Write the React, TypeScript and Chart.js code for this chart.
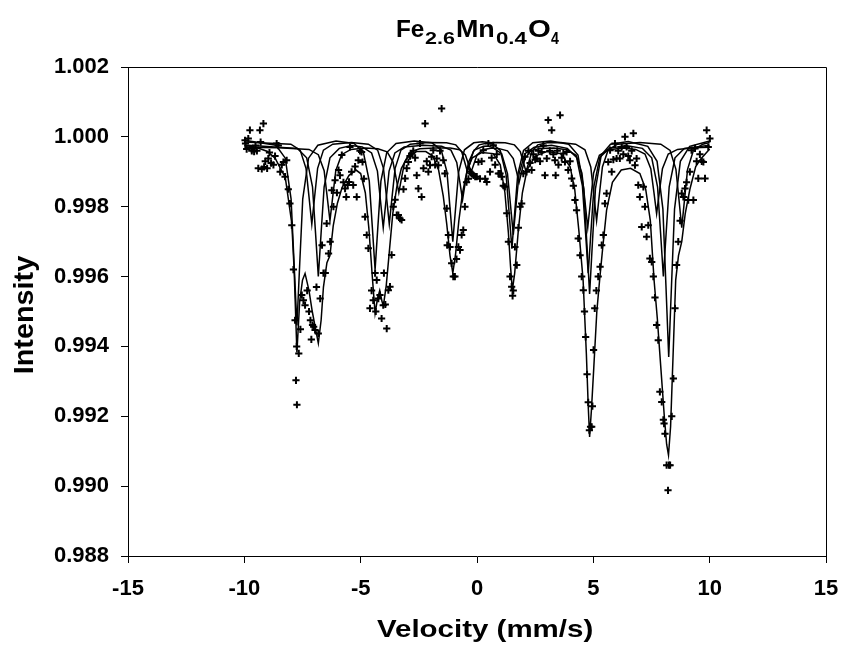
import React, { useEffect, useRef } from 'react';
import { Chart, registerables } from 'chart.js';

Chart.register(...registerables);

const FONT = "'Liberation Sans', Arial, Helvetica, sans-serif";

// Axis ranges
const X_MIN = -15;
const X_MAX = 15;
const X_STEP = 5;
const Y_MIN = 0.988;
const Y_MAX = 1.002;
const Y_STEP = 0.002;

// Text
const TITLE_PARTS: [string, boolean][] = [
  ['Fe', false], ['2.6', true], ['Mn', false], ['0.4', true], ['O', false], ['4', true],
];
const X_TITLE = 'Velocity (mm/s)';
const Y_TITLE = 'Intensity';

// Measured data points (velocity, intensity)
const velocity = [
  -9.97, -9.95, -9.90, -9.83, -9.76, -9.68, -9.63, -9.58, -9.52, -9.46,
  -9.40, -9.33, -9.30, -9.25, -9.18, -9.15, -9.10, -9.02, -8.97, -8.92,
  -8.85, -8.75, -8.68, -8.61, -8.54, -8.46, -8.39, -8.32, -8.25, -8.18,
  -8.11, -8.04, -7.96, -7.89, -7.82, -7.78, -7.75, -7.74, -7.66, -7.59,
  -7.53, -7.46, -7.39, -7.30, -7.22, -7.16, -7.12, -7.07, -7.02, -6.96,
  -6.90, -6.82, -6.74, -6.66, -6.60, -6.52, -6.46, -6.38, -6.31, -6.24,
  -6.17, -6.10, -6.02, -5.95, -5.89, -5.81, -5.74, -5.67, -5.62, -5.56,
  -5.50, -5.46, -5.39, -5.32, -5.24, -5.17, -5.10, -5.03, -4.96, -4.92,
  -4.86, -4.81, -4.74, -4.67, -4.60, -4.53, -4.46, -4.38, -4.35, -4.31,
  -4.24, -4.17, -4.10, -4.03, -4.00, -3.94, -3.88, -3.81, -3.74, -3.67,
  -3.60, -3.52, -3.45, -3.38, -3.31, -3.24, -3.16, -3.09, -3.02, -2.95,
  -2.88, -2.81, -2.74, -2.66, -2.59, -2.52, -2.45, -2.38, -2.30, -2.23,
  -2.16, -2.09, -2.02, -1.95, -1.88, -1.80, -1.73, -1.66, -1.59, -1.52,
  -1.45, -1.38, -1.30, -1.28, -1.23, -1.16, -1.09, -1.02, -0.95, -0.88,
  -0.80, -0.73, -0.66, -0.59, -0.52, -0.45, -0.37, -0.30, -0.23, -0.15,
  -0.08, -0.01, 0.06, 0.13, 0.20, 0.27, 0.35, 0.42, 0.49, 0.56,
  0.63, 0.70, 0.78, 0.85, 0.92, 0.99, 1.06, 1.13, 1.20, 1.28,
  1.35, 1.42, 1.49, 1.53, 1.56, 1.63, 1.71, 1.78, 1.85, 1.92,
  1.99, 2.06, 2.13, 2.21, 2.28, 2.35, 2.42, 2.50, 2.57, 2.64,
  2.71, 2.78, 2.85, 2.92, 3.00, 3.06, 3.13, 3.21, 3.28, 3.35,
  3.38, 3.45, 3.50, 3.57, 3.64, 3.71, 3.78, 3.85, 3.92, 4.00,
  4.07, 4.14, 4.21, 4.28, 4.35, 4.43, 4.50, 4.57, 4.62, 4.67,
  4.73, 4.78, 4.83, 4.88, 4.93, 4.96, 5.01, 5.06, 5.13, 5.21,
  5.29, 5.36, 5.43, 5.50, 5.57, 5.64, 5.72, 5.79, 5.86, 5.93,
  6.00, 6.07, 6.14, 6.22, 6.29, 6.36, 6.43, 6.50, 6.57, 6.65,
  6.72, 6.79, 6.86, 6.93, 7.00, 7.08, 7.15, 7.22, 7.29, 7.36,
  7.43, 7.51, 7.58, 7.65, 7.72, 7.79, 7.86, 7.94, 8.01, 8.04,
  8.08, 8.15, 8.21, 8.25, 8.30, 8.37, 8.44, 8.51, 8.58, 8.65,
  8.73, 8.80, 8.87, 8.94, 9.01, 9.08, 9.15, 9.22, 9.30, 9.37,
  9.44, 9.51, 9.58, 9.66, 9.73, 9.80, 9.87, 9.94, 10.01,
];

const intensity = [
  0.99990, 0.99981, 0.99965, 0.99995, 1.00019, 0.99960, 0.99966, 0.99958, 0.99975, 0.99960,
  0.99910, 1.00019, 0.99985, 0.99908, 1.00038, 0.99914, 0.99930, 0.99910, 0.99938, 0.99955,
  0.99925, 0.99920, 0.99945, 0.99981, 0.99975, 0.99900, 0.99920, 0.99928, 0.99886, 0.99933,
  0.99850, 0.99809, 0.99747, 0.99620, 0.99475, 0.99303, 0.99400, 0.99233, 0.99380, 0.99449,
  0.99547, 0.99532, 0.99518, 0.99560, 0.99500, 0.99475, 0.99420, 0.99461, 0.99456, 0.99447,
  0.99570, 0.99437, 0.99537, 0.99690, 0.99610, 0.99610, 0.99752, 0.99666, 0.99700, 0.99847,
  0.99800, 0.99876, 0.99840, 0.99905, 0.99890, 0.99948, 0.99870, 0.99852, 0.99828, 0.99862,
  0.99871, 0.99971, 0.99900, 0.99862, 0.99915, 0.99828, 0.99933, 0.99960, 0.99957, 0.99928,
  0.99880, 0.99771, 0.99719, 0.99681, 0.99509, 0.99560, 0.99532, 0.99610, 0.99500, 0.99590,
  0.99537, 0.99547, 0.99480, 0.99518, 0.99610, 0.99520, 0.99451, 0.99561, 0.99571, 0.99662,
  0.99800, 0.99820, 0.99776, 0.99776, 0.99766, 0.99762, 0.99850, 0.99881, 0.99910, 0.99928,
  0.99945, 0.99952, 0.99960, 0.99940, 0.99890, 0.99852, 0.99981, 0.99828, 0.99910, 1.00038,
  0.99930, 0.99900, 0.99919, 0.99943, 0.99962, 0.99920, 0.99938, 0.99919, 0.99960, 1.00081,
  0.99933, 0.99895, 0.99795, 0.99690, 0.99719, 0.99685, 0.99638, 0.99600, 0.99600, 0.99650,
  0.99685, 0.99676, 0.99719, 0.99733, 0.99800, 0.99870, 0.99880, 0.99900, 0.99895, 0.99890,
  0.99886, 0.99886, 0.99928, 0.99880, 0.99930, 0.99962, 0.99880, 0.99871, 0.99981, 0.99900,
  0.99940, 0.99976, 0.99920, 0.99950, 0.99895, 0.99895, 0.99886, 0.99860, 0.99857, 0.99781,
  0.99700, 0.99600, 0.99571, 0.99545, 0.99560, 0.99685, 0.99633, 0.99740, 0.99800, 0.99809,
  0.99895, 0.99943, 0.99900, 0.99960, 0.99925, 0.99905, 0.99950, 0.99935, 0.99938, 0.99960,
  0.99930, 0.99957, 0.99975, 0.99890, 0.99938, 1.00048, 0.99960, 1.00019, 0.99950, 0.99933,
  0.99890, 0.99960, 0.99920, 1.00062, 0.99940, 0.99952, 0.99928, 0.99957, 0.99905, 0.99930,
  0.99881, 0.99860, 0.99819, 0.99790, 0.99709, 0.99661, 0.99600, 0.99561, 0.99500, 0.99427,
  0.99320, 0.99240, 0.99160, 0.99170, 0.99170, 0.99229, 0.99390, 0.99509, 0.99560, 0.99600,
  0.99628, 0.99690, 0.99719, 0.99809, 0.99838, 0.99928, 0.99962, 0.99900, 0.99935, 0.99981,
  0.99938, 0.99960, 0.99938, 0.99971, 0.99950, 1.00000, 0.99971, 0.99945, 0.99933, 0.99960,
  1.00010, 0.99919, 0.99938, 0.99862, 0.99828, 0.99742, 0.99857, 0.99800, 0.99714, 0.99747,
  0.99652, 0.99642, 0.99600, 0.99540, 0.99461, 0.99418, 0.99270, 0.99241, 0.99190, 0.99179,
  0.99150, 0.99060, 0.98988, 0.99060, 0.99060, 0.99200, 0.99308, 0.99509, 0.99633, 0.99700,
  0.99760, 0.99838, 0.99828, 0.99852, 0.99870, 0.99819, 0.99900, 0.99962, 0.99819, 0.99967,
  0.99930, 0.99881, 0.99950, 0.99930, 0.99928, 0.99881, 1.00019, 0.99971, 0.99995,
];

// Total fit curve (velocity, intensity)
const fitTotal: [number, number][] = [
  [-10.00, 0.99975], [-9.50, 0.99970], [-9.00, 0.99958], [-8.67, 0.99938], [-8.45, 0.99910],
  [-8.24, 0.99884], [-8.10, 0.99818], [-7.96, 0.99752], [-7.86, 0.99620], [-7.74, 0.99383],
  [-7.62, 0.99530], [-7.50, 0.99590], [-7.39, 0.99609], [-7.22, 0.99560], [-7.08, 0.99500],
  [-6.94, 0.99450], [-6.82, 0.99409], [-6.70, 0.99475], [-6.60, 0.99570], [-6.45, 0.99640],
  [-6.32, 0.99660], [-6.18, 0.99745], [-6.00, 0.99810], [-5.80, 0.99855], [-5.50, 0.99890],
  [-5.20, 0.99905], [-5.00, 0.99895], [-4.80, 0.99840], [-4.65, 0.99740], [-4.50, 0.99600],
  [-4.38, 0.99495], [-4.28, 0.99535], [-4.18, 0.99560], [-4.08, 0.99528], [-4.02, 0.99518],
  [-3.90, 0.99575], [-3.77, 0.99670], [-3.62, 0.99780], [-3.45, 0.99855], [-3.25, 0.99910],
  [-3.00, 0.99940], [-2.60, 0.99958], [-2.20, 0.99958], [-1.90, 0.99945], [-1.65, 0.99905],
  [-1.45, 0.99830], [-1.30, 0.99750], [-1.16, 0.99660], [-1.04, 0.99610], [-0.92, 0.99665],
  [-0.78, 0.99760], [-0.62, 0.99840], [-0.42, 0.99905], [-0.20, 0.99940], [0.20, 0.99955],
  [0.70, 0.99952], [1.00, 0.99920], [1.20, 0.99840], [1.35, 0.99725], [1.44, 0.99630],
  [1.52, 0.99561], [1.62, 0.99610], [1.78, 0.99735], [1.95, 0.99840], [2.15, 0.99905],
  [2.50, 0.99945], [3.00, 0.99958], [3.60, 0.99952], [4.00, 0.99915], [4.20, 0.99850],
  [4.38, 0.99730], [4.56, 0.99590], [4.70, 0.99380], [4.78, 0.99230], [4.84, 0.99141],
  [4.92, 0.99220], [5.02, 0.99340], [5.15, 0.99500], [5.27, 0.99590], [5.40, 0.99680],
  [5.57, 0.99790], [5.82, 0.99870], [6.20, 0.99905], [6.60, 0.99910], [7.00, 0.99895],
  [7.25, 0.99850], [7.45, 0.99760], [7.61, 0.99590], [7.75, 0.99480], [7.90, 0.99340],
  [8.05, 0.99200], [8.15, 0.99120], [8.23, 0.99089], [8.32, 0.99170], [8.43, 0.99380],
  [8.54, 0.99590], [8.66, 0.99660], [8.80, 0.99700], [8.95, 0.99780], [9.15, 0.99850],
  [9.40, 0.99915], [9.60, 0.99935], [10.00, 0.99965],
];

// Sub-spectrum (sextet) curves
const site1: [number, number][] = [
  [-10, 0.99990], [-8.64, 0.99976], [-8.24, 0.99939], [-7.99, 0.99822], [-7.86, 0.99636],
  [-7.74, 0.9946], [-7.62, 0.99636], [-7.49, 0.99822], [-7.24, 0.99939], [-6.84, 0.99976],
  [-6.06, 0.99988], [-5.28, 0.99981], [-4.88, 0.99955], [-4.63, 0.99873], [-4.50, 0.99743],
  [-4.38, 0.9962], [-4.26, 0.99743], [-4.13, 0.99873], [-3.88, 0.99955], [-3.48, 0.99981],
  [-2.70, 0.99988], [-1.94, 0.99983], [-1.54, 0.99963], [-1.29, 0.99899], [-1.16, 0.99796],
  [-1.04, 0.9970], [-0.92, 0.99796], [-0.79, 0.99899], [-0.54, 0.99963], [-0.14, 0.99983],
  [0.23, 0.99986], [0.60, 0.99983], [1.00, 0.99961], [1.25, 0.99892], [1.38, 0.99783],
  [1.50, 0.9968], [1.62, 0.99783], [1.75, 0.99892], [2.00, 0.99961], [2.40, 0.99983],
  [3.17, 0.99988], [3.94, 0.99979], [4.34, 0.99948], [4.59, 0.99851], [4.72, 0.99696],
  [4.84, 0.9955], [4.96, 0.99696], [5.09, 0.99851], [5.34, 0.99948], [5.74, 0.99979],
  [6.50, 0.99987], [7.34, 0.99973], [7.74, 0.9993], [7.99, 0.99793], [8.12, 0.99575],
  [8.24, 0.9937], [8.36, 0.99575], [8.49, 0.99793], [8.74, 0.9993], [9.14, 0.99973],
  [10, 0.99988],
];

const site2: [number, number][] = [
  [-10, 0.99977], [-7.72, 0.99967], [-7.32, 0.9994], [-7.07, 0.99857], [-6.94, 0.99725],
  [-6.82, 0.9960], [-6.70, 0.99725], [-6.57, 0.99857], [-6.32, 0.9994], [-5.92, 0.99967],
  [-5.40, 0.99975], [-4.93, 0.99971], [-4.53, 0.99954], [-4.28, 0.99902], [-4.15, 0.99818],
  [-4.03, 0.9974], [-3.91, 0.99818], [-3.78, 0.99902], [-3.53, 0.99954], [-3.13, 0.99971],
  [-2.30, 0.99976], [-1.52, 0.99973], [-1.12, 0.99962], [-0.87, 0.99927], [-0.74, 0.99872],
  [-0.62, 0.9982], [-0.50, 0.99872], [-0.37, 0.99927], [-0.12, 0.99962], [0.28, 0.99973],
  [0.47, 0.99974], [0.66, 0.9997], [1.06, 0.99952], [1.31, 0.99895], [1.44, 0.99805],
  [1.56, 0.9972], [1.68, 0.99805], [1.81, 0.99895], [2.06, 0.99952], [2.46, 0.9997],
  [3.20, 0.99976], [3.88, 0.99967], [4.28, 0.99941], [4.53, 0.9986], [4.66, 0.99731],
  [4.78, 0.9961], [4.90, 0.99731], [5.03, 0.9986], [5.28, 0.99941], [5.68, 0.99967],
  [6.40, 0.99975], [7.11, 0.99967], [7.51, 0.9994], [7.76, 0.99857], [7.89, 0.99725],
  [8.01, 0.9960], [8.13, 0.99725], [8.26, 0.99857], [8.51, 0.9994], [8.91, 0.99967],
  [10, 0.99976],
];

const site3: [number, number][] = [
  [-10, 0.99985], [-8.00, 0.99979], [-7.60, 0.99962], [-7.35, 0.9991], [-7.22, 0.99828],
  [-7.10, 0.9975], [-6.98, 0.99828], [-6.85, 0.9991], [-6.60, 0.99962], [-6.20, 0.99979],
  [-5.40, 0.99984], [-4.67, 0.99979], [-4.27, 0.99962], [-4.02, 0.9991], [-3.89, 0.99828],
  [-3.77, 0.9975], [-3.65, 0.99828], [-3.52, 0.9991], [-3.27, 0.99962], [-2.87, 0.99979],
  [-2.10, 0.99984], [-1.31, 0.99983], [-0.91, 0.99977], [-0.66, 0.99958], [-0.53, 0.99928],
  [-0.41, 0.9990], [-0.29, 0.99928], [-0.16, 0.99958], [0.09, 0.99977], [0.49, 0.99983],
  [0.85, 0.99984], [1.21, 0.99983], [1.61, 0.99977], [1.86, 0.99958], [1.99, 0.99928],
  [2.11, 0.9990], [2.23, 0.99928], [2.36, 0.99958], [2.61, 0.99977], [3.01, 0.99983],
  [3.60, 0.99984], [4.24, 0.99979], [4.64, 0.99963], [4.89, 0.99914], [5.02, 0.99835],
  [5.14, 0.9976], [5.26, 0.99835], [5.39, 0.99914], [5.64, 0.99963], [6.04, 0.99979],
  [7.00, 0.99984], [7.90, 0.99979], [8.30, 0.99961], [8.55, 0.99907], [8.68, 0.99821],
  [8.80, 0.9974], [8.92, 0.99821], [9.05, 0.99907], [9.30, 0.99961], [9.70, 0.99979],
  [10, 0.99984],
];

const site4: [number, number][] = [
  [-10, 0.9997], [-8.50, 0.99969], [-7.22, 0.99964], [-6.82, 0.99949], [-6.57, 0.99903],
  [-6.44, 0.99829], [-6.32, 0.9976], [-6.20, 0.99829], [-6.07, 0.99903], [-5.82, 0.99949],
  [-5.42, 0.99964], [-4.80, 0.99968], [-4.26, 0.99966], [-3.86, 0.99957], [-3.61, 0.99928],
  [-3.48, 0.99883], [-3.36, 0.9984], [-3.24, 0.99883], [-3.11, 0.99928], [-2.86, 0.99957],
  [-2.46, 0.99966], [-1.80, 0.99968], [-1.15, 0.99968], [-0.75, 0.99963], [-0.50, 0.99948],
  [-0.37, 0.99923], [-0.25, 0.9990], [-0.13, 0.99923], [0.00, 0.99948], [0.25, 0.99963],
  [0.65, 0.99968], [0.78, 0.99967], [0.91, 0.99967], [1.31, 0.9996], [1.56, 0.99938],
  [1.69, 0.99903], [1.81, 0.9987], [1.93, 0.99903], [2.06, 0.99938], [2.31, 0.9996],
  [2.71, 0.99967], [3.30, 0.99968], [3.86, 0.99963], [4.26, 0.99947], [4.51, 0.99896],
  [4.64, 0.99816], [4.76, 0.9974], [4.88, 0.99816], [5.01, 0.99896], [5.26, 0.99947],
  [5.66, 0.99963], [6.30, 0.99968], [6.82, 0.99964], [7.22, 0.99951], [7.47, 0.99909],
  [7.60, 0.99843], [7.72, 0.9978], [7.84, 0.99843], [7.97, 0.99909], [8.22, 0.99951],
  [8.62, 0.99964], [9.30, 0.99969], [10, 0.9997],
];

const toXY = (arr: [number, number][]) => arr.map(([x, y]) => ({ x, y }));

// Layout of drawn texts (pixel positions measured on the reference)
const TITLE_X = [397, 425, 457, 496, 528, 551];
const TITLE_W = [27, 30, 37, 31, 22, 8];

const drawInk = (
  ctx: CanvasRenderingContext2D,
  text: string,
  font: string,
  x: number,
  y: number,
  targetW: number,
) => {
  ctx.font = font;
  const m = ctx.measureText(text);
  const ink = m.actualBoundingBoxRight + m.actualBoundingBoxLeft;
  const s = targetW / ink;
  ctx.save();
  ctx.translate(x, y);
  ctx.scale(s, 1);
  ctx.textAlign = 'left';
  ctx.textBaseline = 'alphabetic';
  ctx.fillText(text, m.actualBoundingBoxLeft, 0);
  ctx.restore();
};

const textPlugin = {
  id: 'customTexts',
  afterDraw(chart: any) {
    const ctx: CanvasRenderingContext2D = chart.ctx;
    const a = chart.chartArea;
    ctx.save();
    // box: top and right border
    ctx.strokeStyle = '#000';
    ctx.lineWidth = 1;
    ctx.beginPath();
    ctx.moveTo(a.left, Math.round(a.top) + 0.5);
    ctx.lineTo(Math.round(a.right) + 0.5, Math.round(a.top) + 0.5);
    ctx.lineTo(Math.round(a.right) + 0.5, a.bottom);
    ctx.stroke();

    ctx.fillStyle = '#000';
    // title with subscripts
    TITLE_PARTS.forEach(([t, sub], i) => {
      drawInk(ctx, t, `bold ${sub ? 16 : 24}px ${FONT}`, TITLE_X[i], sub ? 44.3 : 36.8, TITLE_W[i]);
    });
    // x title
    drawInk(ctx, X_TITLE, `bold 24px ${FONT}`, 377, 637.3, 215);
    // y title (rotated)
    ctx.save();
    ctx.translate(33, 373.3);
    ctx.rotate(-Math.PI / 2);
    drawInk(ctx, Y_TITLE, `bold 28px ${FONT}`, 0, 0, 118);
    ctx.restore();
    ctx.restore();
  },
};

export default function App() {
  const canvasRef = useRef<HTMLCanvasElement | null>(null);

  useEffect(() => {
    if (!canvasRef.current) return;
    const points = velocity.map((x, i) => ({ x, y: intensity[i] }));
    const lineDs = (data: [number, number][]) => ({
      type: 'line' as const,
      data: toXY(data),
      showLine: true,
      borderColor: '#000',
      borderWidth: 1.5,
      pointRadius: 0,
      tension: 0,
      fill: false,
    });
    const tickFont = { family: FONT, size: 22, weight: 'bold' as const };
    const chart = new Chart(canvasRef.current, {
      type: 'scatter',
      data: {
        datasets: [
          {
            data: points,
            pointStyle: 'cross',
            pointRadius: 3.6,
            pointBorderWidth: 2,
            borderColor: '#000',
            backgroundColor: '#000',
            showLine: false,
          } as any,
          lineDs(fitTotal),
          lineDs(site1),
          lineDs(site2),
          lineDs(site3),
          lineDs(site4),
        ],
      },
      options: {
        animation: false,
        responsive: false,
        devicePixelRatio: 1,
        layout: { padding: { left: 0, right: 16, top: 67, bottom: 0 } },
        plugins: {
          legend: { display: false },
          tooltip: { enabled: false },
          title: { display: false },
        },
        scales: {
          x: {
            type: 'linear',
            position: 'bottom',
            min: X_MIN,
            max: X_MAX,
            afterFit: (s: any) => {
              s.height = 91;
              s.paddingLeft = 0;
              s.paddingRight = 0;
            },
            ticks: {
              stepSize: X_STEP,
              font: tickFont,
              color: '#000',
              padding: 13,
              maxRotation: 0,
              autoSkip: false,
              callback: (v: any) => String(v),
            },
            grid: { drawOnChartArea: false, drawTicks: true, tickLength: 7, color: '#000', tickColor: '#000', lineWidth: 1 },
            border: { display: true, color: '#000', width: 1 },
          },
          y: {
            type: 'linear',
            position: 'left',
            min: Y_MIN,
            max: Y_MAX,
            afterFit: (s: any) => {
              s.width = 128;
              s.paddingTop = 0;
              s.paddingBottom = 0;
            },
            ticks: {
              stepSize: Y_STEP,
              font: tickFont,
              color: '#000',
              padding: 12,
              autoSkip: false,
              callback: (v: any) => Number(v).toFixed(3),
            },
            grid: { drawOnChartArea: false, drawTicks: true, tickLength: 7, color: '#000', tickColor: '#000', lineWidth: 1 },
            border: { display: true, color: '#000', width: 1 },
          },
        },
      } as any,
      plugins: [textPlugin],
    });
    return () => chart.destroy();
  }, []);

  return (
    <div style={{ position: 'absolute', left: 0, top: 0, width: 842, height: 647, background: '#fff' }}>
      <canvas ref={canvasRef} width={842} height={647} style={{ display: 'block' }} />
    </div>
  );
}
